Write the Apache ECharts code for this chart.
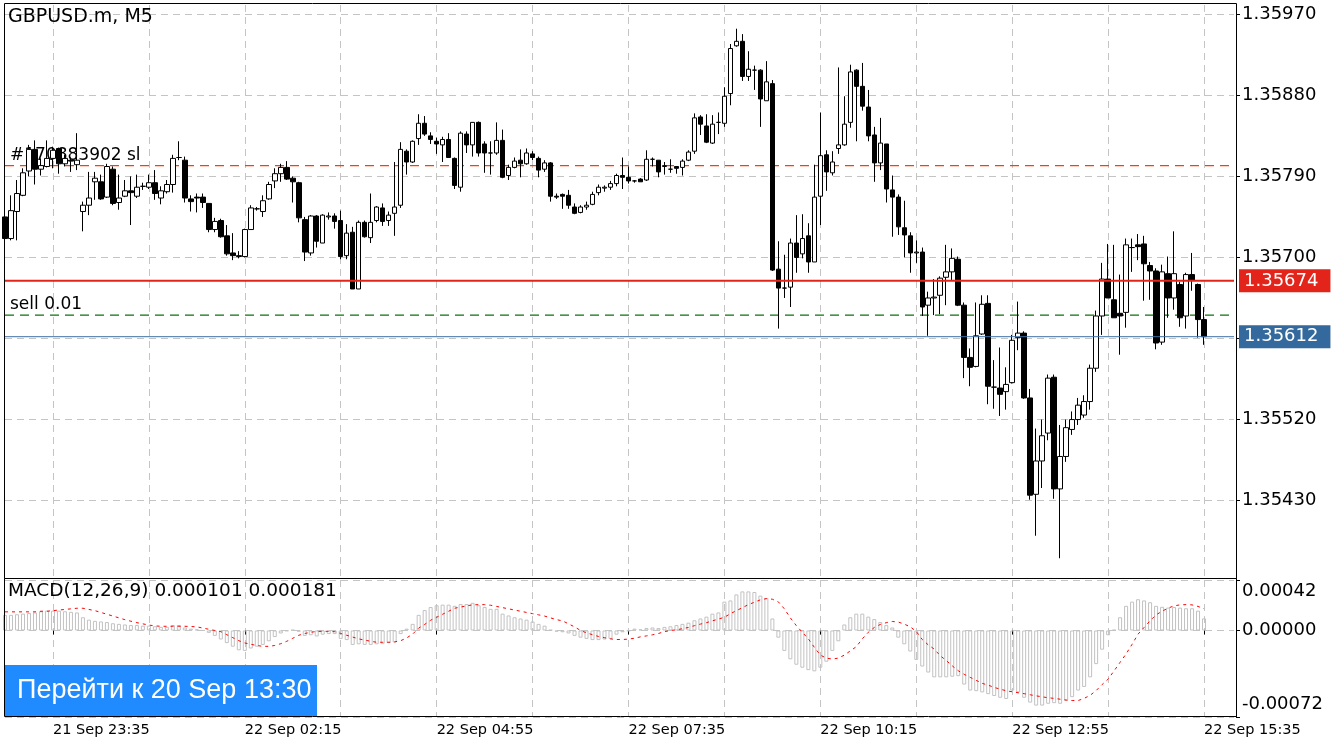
<!DOCTYPE html>
<html>
<head>
<meta charset="utf-8">
<title>GBPUSD.m, M5</title>
<script src="https://cdn.jsdelivr.net/npm/echarts@6/dist/echarts.min.js"></script>
<style>
html, body { margin: 0; padding: 0; background: #fff; }
#chart { width: 1334px; height: 750px; }
</style>
</head>
<body>
<div id="chart"></div>
<script>
// GBPUSD.m M5, bars from 21 Sep 22:55 to 22 Sep 15:35
var open = [1.35745,1.35721,1.35751,1.35769,1.35796,1.35820,1.35798,1.35801,1.35810,1.35821,
 1.35804,1.35808,1.35803,1.35751,1.35758,1.35784,1.35784,1.35767,1.35798,1.35761,
 1.35768,1.35774,1.35768,1.35779,1.35778,1.35783,1.35766,1.35773,1.35781,1.35811,
 1.35808,1.35765,1.35767,1.35767,1.35760,1.35731,1.35741,1.35724,1.35705,1.35702,
 1.35701,1.35731,1.35754,1.35751,1.35765,1.35785,1.35793,1.35800,1.35788,1.35783,
 1.35742,1.35705,1.35746,1.35716,1.35745,1.35746,1.35741,1.35702,1.35728,1.35665,
 1.35739,1.35722,1.35741,1.35755,1.35741,1.35749,1.35758,1.35818,1.35806,1.35832,
 1.35849,1.35835,1.35829,1.35825,1.35831,1.35810,1.35778,1.35837,1.35825,1.35850,
 1.35826,1.35816,1.35816,1.35830,1.35791,1.35800,1.35808,1.35804,1.35815,1.35810,
 1.35798,1.35805,1.35768,1.35770,1.35769,1.35756,1.35750,1.35756,1.35759,1.35772,
 1.35777,1.35778,1.35782,1.35791,1.35789,1.35785,1.35787,1.35786,1.35809,1.35808,
 1.35801,1.35798,1.35801,1.35800,1.35808,1.35818,1.35856,1.35846,1.35827,1.35850,
 1.35849,1.35882,1.35935,1.35940,1.35901,1.35908,1.35908,1.35874,1.35893,1.35687,
 1.35666,1.35667,1.35716,1.35704,1.35724,1.35695,1.35768,1.35814,1.35794,1.35821,
 1.35825,1.35850,1.35908,1.35890,1.35867,1.35836,1.35805,1.35826,1.35775,1.35767,
 1.35733,1.35724,1.35705,1.35706,1.35647,1.35655,1.35658,1.35678,1.35684,1.35698,
 1.35647,1.35589,1.35579,1.35615,1.35649,1.35556,1.35555,1.35551,1.35561,1.35611,
 1.35616,1.35544,1.35437,1.35474,1.35505,1.35567,1.35443,1.35479,1.35509,1.35520,
 1.35525,1.35540,1.35577,1.35635,1.35676,1.35653,1.35638,1.35639,1.35711,1.35714,
 1.35715,1.35691,1.35685,1.35606,1.35682,1.35655,1.35670,1.35635,1.35681,1.35670,
 1.35631];
var high = [1.35751,1.35769,1.35786,1.35799,1.35825,1.35830,1.35810,1.35830,1.35823,1.35822,
 1.35814,1.35811,1.35838,1.35762,1.35795,1.35795,1.35792,1.35804,1.35801,1.35792,
 1.35786,1.35790,1.35792,1.35783,1.35792,1.35797,1.35779,1.35786,1.35814,1.35829,
 1.35812,1.35769,1.35771,1.35771,1.35760,1.35744,1.35743,1.35736,1.35727,1.35707,
 1.35732,1.35758,1.35756,1.35769,1.35784,1.35799,1.35804,1.35807,1.35790,1.35784,
 1.35745,1.35747,1.35747,1.35748,1.35750,1.35749,1.35752,1.35737,1.35734,1.35741,
 1.35741,1.35771,1.35757,1.35760,1.35751,1.35806,1.35828,1.35820,1.35830,1.35859,
 1.35857,1.35839,1.35833,1.35834,1.35838,1.35811,1.35840,1.35840,1.35850,1.35851,
 1.35829,1.35829,1.35850,1.35842,1.35803,1.35811,1.35820,1.35821,1.35818,1.35812,
 1.35808,1.35806,1.35771,1.35771,1.35775,1.35760,1.35758,1.35762,1.35773,1.35781,
 1.35780,1.35785,1.35793,1.35811,1.35801,1.35786,1.35788,1.35819,1.35811,1.35808,
 1.35806,1.35809,1.35801,1.35809,1.35819,1.35860,1.35858,1.35859,1.35858,1.35861,
 1.35889,1.35937,1.35954,1.35948,1.35929,1.35913,1.35909,1.35918,1.35897,1.35718,
 1.35703,1.35721,1.35747,1.35748,1.35738,1.35803,1.35861,1.35819,1.35818,1.35911,
 1.35879,1.35914,1.35909,1.35916,1.35886,1.35845,1.35855,1.35826,1.35791,1.35770,
 1.35763,1.35728,1.35719,1.35711,1.35662,1.35676,1.35679,1.35714,1.35710,1.35701,
 1.35650,1.35599,1.35650,1.35658,1.35658,1.35586,1.35600,1.35578,1.35614,1.35651,
 1.35618,1.35554,1.35510,1.35520,1.35570,1.35570,1.35514,1.35520,1.35529,1.35544,
 1.35547,1.35581,1.35641,1.35694,1.35715,1.35714,1.35681,1.35721,1.35721,1.35726,
 1.35724,1.35695,1.35688,1.35692,1.35701,1.35729,1.35673,1.35683,1.35705,1.35671,
 1.35645];
var low = [1.35719,1.35719,1.35719,1.35768,1.35790,1.35781,1.35791,1.35800,1.35799,1.35793,
 1.35801,1.35795,1.35797,1.35729,1.35747,1.35764,1.35764,1.35766,1.35758,1.35753,
 1.35767,1.35736,1.35766,1.35775,1.35776,1.35764,1.35759,1.35771,1.35772,1.35808,
 1.35761,1.35751,1.35750,1.35755,1.35728,1.35728,1.35722,1.35702,1.35697,1.35699,
 1.35700,1.35731,1.35752,1.35745,1.35764,1.35777,1.35784,1.35786,1.35761,1.35739,
 1.35696,1.35702,1.35711,1.35716,1.35742,1.35732,1.35698,1.35698,1.35665,1.35665,
 1.35722,1.35716,1.35739,1.35735,1.35735,1.35724,1.35755,1.35792,1.35805,1.35825,
 1.35835,1.35826,1.35815,1.35806,1.35811,1.35776,1.35773,1.35816,1.35812,1.35812,
 1.35794,1.35792,1.35814,1.35788,1.35786,1.35799,1.35789,1.35803,1.35808,1.35789,
 1.35795,1.35762,1.35765,1.35754,1.35754,1.35748,1.35749,1.35753,1.35758,1.35769,
 1.35773,1.35775,1.35779,1.35776,1.35782,1.35783,1.35784,1.35785,1.35801,1.35789,
 1.35792,1.35794,1.35793,1.35791,1.35807,1.35815,1.35836,1.35827,1.35826,1.35837,
 1.35845,1.35869,1.35934,1.35896,1.35896,1.35886,1.35845,1.35874,1.35685,1.35621,
 1.35655,1.35645,1.35683,1.35699,1.35683,1.35695,1.35736,1.35774,1.35791,1.35815,
 1.35824,1.35844,1.35829,1.35863,1.35829,1.35784,1.35797,1.35761,1.35723,1.35725,
 1.35700,1.35683,1.35694,1.35635,1.35613,1.35636,1.35637,1.35647,1.35675,1.35646,
 1.35566,1.35557,1.35578,1.35614,1.35537,1.35532,1.35524,1.35531,1.35560,1.35597,
 1.35543,1.35431,1.35391,1.35444,1.35497,1.35432,1.35366,1.35473,1.35503,1.35514,
 1.35522,1.35531,1.35573,1.35614,1.35655,1.35633,1.35592,1.35622,1.35684,1.35697,
 1.35652,1.35653,1.35598,1.35603,1.35633,1.35642,1.35623,1.35621,1.35663,1.35611,
 1.35603];
var close = [1.35721,1.35752,1.35771,1.35794,1.35820,1.35798,1.35802,1.35810,1.35819,1.35804,
 1.35810,1.35807,1.35808,1.35758,1.35766,1.35788,1.35765,1.35801,1.35760,1.35766,
 1.35774,1.35772,1.35778,1.35779,1.35783,1.35771,1.35774,1.35781,1.35810,1.35811,
 1.35766,1.35762,1.35766,1.35761,1.35731,1.35740,1.35723,1.35704,1.35702,1.35701,
 1.35731,1.35755,1.35754,1.35763,1.35781,1.35793,1.35800,1.35787,1.35784,1.35744,
 1.35706,1.35746,1.35718,1.35747,1.35746,1.35740,1.35701,1.35727,1.35665,1.35739,
 1.35723,1.35739,1.35756,1.35740,1.35747,1.35756,1.35820,1.35806,1.35829,1.35849,
 1.35837,1.35831,1.35826,1.35831,1.35811,1.35780,1.35838,1.35825,1.35850,1.35816,
 1.35816,1.35816,1.35830,1.35789,1.35800,1.35807,1.35804,1.35816,1.35811,1.35797,
 1.35805,1.35768,1.35767,1.35768,1.35758,1.35749,1.35756,1.35758,1.35770,1.35778,
 1.35778,1.35782,1.35791,1.35789,1.35785,1.35785,1.35784,1.35809,1.35809,1.35795,
 1.35802,1.35798,1.35799,1.35807,1.35817,1.35855,1.35848,1.35828,1.35848,1.35850,
 1.35879,1.35932,1.35940,1.35901,1.35909,1.35908,1.35876,1.35895,1.35686,1.35666,
 1.35666,1.35716,1.35700,1.35721,1.35695,1.35767,1.35813,1.35795,1.35806,1.35825,
 1.35848,1.35906,1.35890,1.35868,1.35835,1.35805,1.35827,1.35776,1.35767,1.35734,
 1.35725,1.35705,1.35706,1.35645,1.35655,1.35656,1.35677,1.35684,1.35699,1.35647,
 1.35589,1.35578,1.35613,1.35648,1.35557,1.35556,1.35548,1.35559,1.35608,1.35616,
 1.35544,1.35436,1.35474,1.35502,1.35566,1.35443,1.35479,1.35511,1.35520,1.35536,
 1.35540,1.35577,1.35635,1.35676,1.35655,1.35633,1.35635,1.35714,1.35711,1.35712,
 1.35693,1.35685,1.35605,1.35684,1.35655,1.35682,1.35633,1.35681,1.35675,1.35631,
 1.35612];

// MACD(12,26,9): main (histogram) and signal (dotted)
var macdMain = [0.00013,0.00013,0.000135,0.00014,0.000145,0.00015,0.00016,0.000165,0.000165,0.000165,
 0.00016,0.000155,0.00015,0.00011,0.00009,0.00008,0.000075,0.00007,0.00006,0.000055,
 0.00005,0.000045,0.000045,0.00004,0.00004,0.000035,0.00003,0.00003,0.000045,0.000045,
 0.000025,0.000015,0.00001,0,-0.00002,-0.000045,-0.000075,-0.000105,-0.000135,-0.000165,
 -0.00017,-0.00015,-0.000135,-0.00012,-0.00009,-0.000055,-0.000025,-0.000005,0.000005,-0.00001,
 -0.000045,-0.00004,-0.00005,-0.000035,-0.00003,-0.00003,-0.00007,-0.00008,-0.00012,-0.000115,
 -0.00012,-0.00012,-0.000115,-0.00011,-0.000105,-0.0001,-0.00003,0.000015,0.000055,0.00013,
 0.00017,0.000195,0.00021,0.000215,0.000215,0.000205,0.00022,0.00022,0.00023,0.00021,
 0.000195,0.00018,0.00018,0.00014,0.000125,0.00011,0.0001,0.00009,0.000075,0.000055,
 0.00004,0.000005,-0.00001,-0.000015,-0.000025,-0.000045,-0.00006,-0.00007,-0.00008,-0.00008,
 -0.000075,-0.00007,-0.000035,-0.000015,-0.000005,0.000015,0.00001,0.00002,0.000025,0.00002,
 0.00003,0.000035,0.000045,0.000055,0.000065,0.000085,0.0001,0.000115,0.00014,0.00015,
 0.00024,0.00025,0.0003,0.000325,0.000325,0.00032,0.00029,0.00027,0.0001,-0.00006,
 -0.00017,-0.00024,-0.000285,-0.00031,-0.00033,-0.00034,-0.00031,-0.00026,-0.00017,-0.00009,
 0.00005,0.00011,0.00014,0.00014,0.000115,0.000095,0.00007,0.000045,0.000025,-0.00006,
 -0.000115,-0.000175,-0.000245,-0.0003,-0.00035,-0.00039,-0.00039,-0.00039,-0.000385,-0.00038,
 -0.00045,-0.0005,-0.000505,-0.000515,-0.00053,-0.000545,-0.00056,-0.00057,-0.0005,-0.000515,
 -0.00056,-0.0006,-0.000625,-0.000625,-0.00061,-0.000605,-0.00061,-0.000585,-0.000555,-0.0005,
 -0.00047,-0.00039,-0.00028,-0.00016,-0.00004,0.000005,0.00011,0.000205,0.00024,0.00026,
 0.00025,0.000235,0.000205,0.000197,0.00019,0.000195,0.00019,0.000185,0.000185,0.000165,
 0.000101];
var macdSignal = [0.000155,0.000155,0.000155,0.000155,0.000155,0.000155,0.00016,0.00016,0.000165,0.00017,
 0.000175,0.00018,0.000185,0.000185,0.000175,0.000165,0.00015,0.000135,0.00012,0.000105,
 0.00009,0.000077,0.000065,0.000055,0.000045,0.000038,0.000035,0.000035,0.000035,0.000035,
 0.000035,0.000033,0.00003,0.00002,0.00001,0,-0.00001,-0.000035,-0.00006,-0.000085,
 -0.000104,-0.000115,-0.000125,-0.000132,-0.000132,-0.000125,-0.00011,-0.00009,-0.000065,-0.00004,
 -0.000025,-0.000015,-0.000008,-0.000007,-0.000007,-0.00001,-0.000025,-0.00004,-0.000055,-0.00007,
 -0.00008,-0.00009,-0.000098,-0.000098,-0.000098,-0.000095,-0.000085,-0.000062,-0.00003,0.00002,
 0.00005,0.000085,0.00011,0.000135,0.00016,0.000185,0.000195,0.000205,0.000213,0.000215,
 0.000215,0.00021,0.0002,0.00019,0.00018,0.00017,0.00016,0.00015,0.00014,0.00013,
 0.00012,0.000105,0.00009,0.00008,0.000055,0.00003,0,-0.00002,-0.000035,-0.00005,
 -0.00006,-0.00007,-0.000075,-0.000075,-0.000072,-0.000065,-0.000053,-0.000045,-0.000036,-0.000025,
 -0.00001,0,0.000005,0.000015,0.000025,0.00004,0.000053,0.000065,0.00008,0.000095,
 0.00011,0.00014,0.000165,0.00019,0.000215,0.000235,0.000255,0.000265,0.00026,0.000238,
 0.00018,0.000105,0.00004,-0.000015,-0.00007,-0.00014,-0.000205,-0.00023,-0.000238,-0.00023,
 -0.000205,-0.00017,-0.000135,-0.00007,-0.000015,0.000025,0.00005,0.000065,0.000075,0.00007,
 0.000053,0.00003,-0.000008,-0.000075,-0.00012,-0.000155,-0.00021,-0.00025,-0.000294,-0.000335,
 -0.000365,-0.00039,-0.000415,-0.00044,-0.000455,-0.000474,-0.000488,-0.000502,-0.00051,-0.000518,
 -0.000526,-0.000535,-0.000544,-0.000552,-0.00056,-0.000565,-0.000572,-0.000579,-0.000583,-0.000583,
 -0.000565,-0.00054,-0.0005,-0.00045,-0.000405,-0.000336,-0.000265,-0.000195,-0.000115,-0.00003,
 0.000025,0.00008,0.00013,0.00016,0.000186,0.000205,0.000213,0.000215,0.000213,0.0002,
 0.000181];

// axis ticks and price levels
var priceLabels = [1.35430, 1.35520, 1.35700, 1.35790, 1.35880, 1.35970];
var priceGridLines = [1.35430, 1.35520, 1.35610, 1.35700, 1.35790, 1.35880, 1.35970];
var macdLabels = [0.00042, 0, -0.00072];
var slLevel = 1.35802;
var askLevel = 1.35674;
var orderLevel = 1.35636;
var bidLevel = 1.35612;

// time categories, 5 minute bars, plus empty chart shift on the right
var times = [];
var start = Date.UTC(2021, 8, 21, 22, 55);
for (var k = 0; k < open.length; k++) {
	var d = new Date(start + k * 5 * 60 * 1000);
	var hh = ('0' + d.getUTCHours()).slice(-2), mm = ('0' + d.getUTCMinutes()).slice(-2);
	times.push(d.getUTCDate() + ' Sep ' + hh + ':' + mm);
}
for (var e = 0; e < 5; e++) times.push('');
var lastIdx = times.length - 1;

var candles = [];
for (var j = 0; j < open.length; j++) candles.push([open[j], close[j], low[j], high[j]]);

var labelEvery = function (i) { return i >= 8 && i < open.length && (i - 8) % 32 === 0; };
var gridEvery = function (i) { return i >= 8 && i < open.length && (i - 8) % 16 === 0; };

var FONT = 'DejaVu Sans';
var gridLine = { show: true, interval: gridEvery, lineStyle: { color: '#c4c4c4', type: [7, 5], width: 1 } };

// horizontal level drawn as a two point line across the whole main panel
function levelSeries(level, color, type, width, z, boxColor) {
	var s = {
		type: 'line', xAxisIndex: 0, yAxisIndex: 0, z: z, silent: true,
		data: [[0, level], [lastIdx, level]],
		symbol: 'none', lineStyle: { color: color, type: type, width: width }
	};
	if (boxColor) {
		s.endLabel = {
			show: true, distance: 5, formatter: level.toFixed(5), color: '#fff',
			backgroundColor: boxColor, padding: [3, 12, 2, 5], fontSize: 18, fontFamily: FONT
		};
	}
	return s;
}

var frames = [
	{ id: 'f1', type: 'rect', shape: { x: 4.5, y: 3.5, width: 1232, height: 575 }, style: { fill: null, stroke: '#000', lineWidth: 1 }, z: 100, silent: true },
	{ id: 'f2', type: 'rect', shape: { x: 4.5, y: 578.5, width: 1232, height: 138 }, style: { fill: null, stroke: '#000', lineWidth: 1 }, z: 100, silent: true },
	{ id: 't1', type: 'text', left: 8, top: 8, style: { text: 'GBPUSD.m, M5', fill: '#000', font: '19px "DejaVu Sans"' }, z: 100, silent: true },
	{ id: 't2', type: 'text', left: 8, top: 582, style: { text: 'MACD(12,26,9) 0.000101 0.000181', fill: '#000', font: '18.5px "DejaVu Sans"' }, z: 100, silent: true },
	{ id: 'b1', type: 'rect', shape: { x: 5, y: 665, width: 312, height: 51 }, style: { fill: '#1f8bff' }, z: 101, silent: true },
	{ id: 'b2', type: 'text', left: 17, top: 677, style: { text: 'Перейти к 20 Sep 13:30', fill: '#fff', font: '27px "Liberation Sans"' }, z: 102, silent: true }
];

var myChart = echarts.init(document.getElementById('chart'));
var option = {
	animation: false,
	backgroundColor: '#fff',
	grid: [
		{ left: 5, top: 5, width: 1229, height: 573 },
		{ left: 5, top: 580, width: 1229, height: 137 }
	],
	xAxis: [
		{
			type: 'category', gridIndex: 0, data: times, boundaryGap: false,
			axisLine: { show: false }, axisTick: { show: false }, axisLabel: { show: false },
			splitLine: gridLine
		},
		{
			type: 'category', gridIndex: 1, data: times, boundaryGap: false,
			axisLine: { show: false },
			axisTick: { show: true, interval: labelEvery, length: 4, lineStyle: { color: '#000' } },
			axisLabel: { interval: labelEvery, align: 'left', margin: 6, color: '#000', fontSize: 14.5, fontFamily: FONT },
			splitLine: gridLine
		}
	],
	yAxis: [
		{
			type: 'value', gridIndex: 0, position: 'right', offset: 2,
			min: 1.3534406, max: 1.3598033,
			axisLine: { show: true, lineStyle: { color: '#000' } },
			axisTick: { show: true, customValues: priceGridLines, length: 4, lineStyle: { color: '#000' } },
			axisLabel: {
				customValues: priceLabels, margin: 6, color: '#000', fontSize: 18, fontFamily: FONT,
				formatter: function (v) { return v.toFixed(5); }
			},
			splitLine: { show: true, lineStyle: { color: '#c4c4c4', type: [7, 5], width: 1 } }
		},
		{
			type: 'value', gridIndex: 1, position: 'right', offset: 2,
			min: -0.00072, max: 0.00042,
			axisLine: { show: true, lineStyle: { color: '#000' } },
			axisTick: { show: true, customValues: macdLabels, length: 4, lineStyle: { color: '#000' } },
			axisLabel: {
				customValues: macdLabels, margin: 6, color: '#000', fontSize: 18, fontFamily: FONT,
				formatter: function (v) {
					if (v > 0.0004) return '{t|' + v.toFixed(5) + '}';
					if (v < -0.0007) return '{b|' + v.toFixed(5) + '}';
					return v.toFixed(5);
				},
				rich: {
					t: { padding: [22, 0, 0, 0], color: '#000', fontSize: 18, fontFamily: FONT },
					b: { padding: [0, 0, 26, 0], color: '#000', fontSize: 18, fontFamily: FONT }
				}
			},
			splitLine: { show: true, lineStyle: { color: '#c4c4c4', type: [7, 5], width: 1 } }
		}
	],
	series: [
		levelSeries(slLevel, '#ff3d00', [9, 6], 1.3, 1),
		levelSeries(orderLevel, '#0d730d', [9, 6], 1.3, 1),
		{
			type: 'candlestick', xAxisIndex: 0, yAxisIndex: 0, data: candles, z: 3,
			barWidth: 5, silent: true,
			itemStyle: { color: '#fff', color0: '#000', borderColor: '#000', borderColor0: '#000', borderColorDoji: '#000', borderWidth: 1 }
		},
		levelSeries(askLevel, '#e3241a', 'solid', 2, 4, '#e3241a'),
		levelSeries(bidLevel, '#3d6fa3', 'solid', 1, 4, '#33699c'),
		{
			name: 'MACD', type: 'bar', xAxisIndex: 1, yAxisIndex: 1, data: macdMain, barWidth: 4,
			itemStyle: { color: 'rgba(255,255,255,0)', borderColor: '#c2c2c2', borderWidth: 1 },
			z: 2, silent: true
		},
		{
			name: 'Signal', type: 'line', xAxisIndex: 1, yAxisIndex: 1, data: macdSignal,
			symbol: 'none', lineStyle: { color: '#ff0000', width: 1, type: [3, 4] }, z: 3, silent: true
		}
	],
	graphic: frames
};
myChart.setOption(option);

// order level captions, placed through the price scale
var ySl = myChart.convertToPixel({ yAxisIndex: 0 }, slLevel);
var yOrder = myChart.convertToPixel({ yAxisIndex: 0 }, orderLevel);
myChart.setOption({
	graphic: frames.concat([
		{ id: 'l1', type: 'text', x: 10, y: ySl - 2, style: { text: '#170883902 sl', fill: '#000', font: '17px "DejaVu Sans"', textVerticalAlign: 'bottom' }, z: 2, silent: true },
		{ id: 'l2', type: 'text', x: 10, y: yOrder - 2, style: { text: 'sell 0.01', fill: '#000', font: '17px "DejaVu Sans"', textVerticalAlign: 'bottom' }, z: 2, silent: true }
	])
});
</script>
</body>
</html>
